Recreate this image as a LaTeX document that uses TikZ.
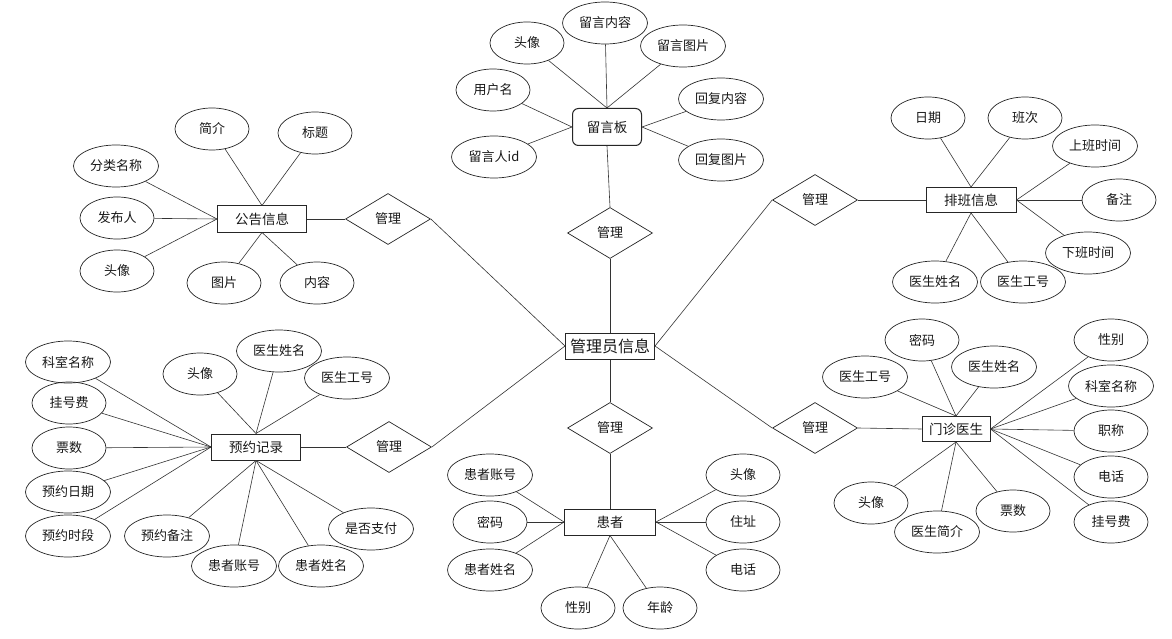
\documentclass[tikz,border=0pt]{standalone}
\usepackage{fontspec}
\newfontfamily\cjk{Noto Sans CJK SC}
\usetikzlibrary{shapes.geometric}
\begin{document}
\begin{tikzpicture}[x=1pt,y=-1pt,
 attr/.style={ellipse, draw=black!85, line width=0.7pt, minimum width=74pt, minimum height=42pt, inner sep=0pt, text=black!90, font=\cjk\fontsize{13}{15}\selectfont},
 wide/.style={minimum width=85pt},
 ent/.style={rectangle, draw=black!85, line width=1pt, minimum width=89pt, minimum height=26pt, inner sep=0pt, text=black!90, font=\cjk\fontsize{13.5}{15}\selectfont},
 rel/.style={diamond, draw=black!85, line width=0.7pt, minimum width=85pt, minimum height=51pt, inner sep=0pt, text=black!90, font=\cjk\fontsize{13}{15}\selectfont},
 conn/.style={draw=black!80, line width=0.6pt}]
\useasboundingbox (0,0) rectangle (1172,639);
\fill[white] (0,0) rectangle (1172,639);

% central entity
\node[ent, minimum width=89pt, font=\cjk\fontsize{16}{18}\selectfont] (M) at (610,346) {管理员信息};

% relationships
\node[rel] (R1) at (610,233) {管理};
\node[rel] (R2) at (388,219) {管理};
\node[rel] (R3) at (815,200) {管理};
\node[rel] (R4) at (389,447) {管理};
\node[rel] (R5) at (610,428) {管理};
\node[rel] (R6) at (815,428) {管理};

% entities
\node[ent, rounded corners=6pt, minimum width=69pt, minimum height=37pt] (B) at (607,127) {留言板};
\node[ent] (G) at (262,219) {公告信息};
\node[ent, minimum width=90pt, minimum height=25pt] (P) at (971,200) {排班信息};
\node[ent] (Y) at (256,447) {预约记录};
\node[ent, minimum width=91pt] (H) at (610,522) {患者};
\node[ent, minimum width=68pt, minimum height=25pt] (D) at (956,429) {门诊医生};

% 留言板 attributes
\node[attr] (b1) at (527,43) {头像};
\node[attr, wide] (b2) at (605,23) {留言内容};
\node[attr, wide] (b3) at (683,46) {留言图片};
\node[attr] (b4) at (493,90) {用户名};
\node[attr, wide] (b5) at (494,157) {留言人id};
\node[attr, wide] (b6) at (721,99) {回复内容};
\node[attr, wide] (b7) at (721,160) {回复图片};

% 公告信息 attributes
\node[attr] (g1) at (212,129) {简介};
\node[attr] (g2) at (315,133) {标题};
\node[attr, wide] (g3) at (116,166) {分类名称};
\node[attr] (g4) at (117,218) {发布人};
\node[attr] (g5) at (117,271) {头像};
\node[attr] (g6) at (224,283) {图片};
\node[attr] (g7) at (317,283) {内容};

% 排班信息 attributes
\node[attr] (p1) at (928,118) {日期};
\node[attr] (p2) at (1025,118) {班次};
\node[attr, wide] (p3) at (1095,146) {上班时间};
\node[attr] (p4) at (1119,200) {备注};
\node[attr, wide] (p5) at (1088,253) {下班时间};
\node[attr, wide] (p6) at (935,282) {医生姓名};
\node[attr, wide] (p7) at (1023,282) {医生工号};

% 预约记录 attributes
\node[attr, wide] (y1) at (68,362) {科室名称};
\node[attr] (y2) at (69,403) {挂号费};
\node[attr] (y3) at (69,448) {票数};
\node[attr, wide] (y4) at (68,492) {预约日期};
\node[attr, wide] (y5) at (68,536) {预约时段};
\node[attr] (y6) at (200,374) {头像};
\node[attr, wide] (y7) at (279,351) {医生姓名};
\node[attr, wide] (y8) at (347,378) {医生工号};
\node[attr, wide] (y9) at (167,536) {预约备注};
\node[attr, wide] (y10) at (234,566) {患者账号};
\node[attr, wide] (y11) at (321,566) {患者姓名};
\node[attr, wide] (y12) at (371,529) {是否支付};

% 患者 attributes
\node[attr, wide] (h1) at (490,475) {患者账号};
\node[attr] (h2) at (490,522) {密码};
\node[attr, wide] (h3) at (490,570) {患者姓名};
\node[attr] (h4) at (578,608) {性别};
\node[attr] (h5) at (660,608) {年龄};
\node[attr] (h6) at (743,475) {头像};
\node[attr] (h7) at (743,522) {住址};
\node[attr] (h8) at (743,570) {电话};

% 门诊医生 attributes
\node[attr] (d1) at (922,340) {密码};
\node[attr, wide] (d2) at (994,367) {医生姓名};
\node[attr, wide] (d3) at (865,377) {医生工号};
\node[attr] (d4) at (1111,340) {性别};
\node[attr, wide] (d5) at (1111,386) {科室名称};
\node[attr] (d6) at (1111,431) {职称};
\node[attr] (d7) at (1111,477) {电话};
\node[attr] (d8) at (1111,522) {挂号费};
\node[attr] (d9) at (871,503) {头像};
\node[attr, wide] (d10) at (937,532) {医生简介};
\node[attr] (d11) at (1013,511) {票数};

% connectors: relationships
\draw[conn] (B.south) -- (R1.north);
\draw[conn] (R1.south) -- (M.north);
\draw[conn] (G.east) -- (R2.west);
\draw[conn] (R2.east) -- (M.west);
\draw[conn] (P.west) -- (R3.east);
\draw[conn] (R3.west) -- (M.east);
\draw[conn] (Y.east) -- (R4.west);
\draw[conn] (R4.east) -- (M.west);
\draw[conn] (M.south) -- (R5.north);
\draw[conn] (R5.south) -- (H.north);
\draw[conn] (M.east) -- (R6.west);
\draw[conn] (R6.east) -- (D.west);

% 留言板
\foreach \a in {b1,b2,b3} \draw[conn] (B.north) -- (\a);
\foreach \a in {b4,b5} \draw[conn] (B.west) -- (\a);
\foreach \a in {b6,b7} \draw[conn] (B.east) -- (\a);

% 公告信息
\foreach \a in {g1,g2} \draw[conn] (G.north) -- (\a);
\foreach \a in {g3,g4,g5} \draw[conn] (G.west) -- (\a);
\foreach \a in {g6,g7} \draw[conn] (G.south) -- (\a);

% 排班信息
\foreach \a in {p1,p2} \draw[conn] (P.north) -- (\a);
\foreach \a in {p3,p4,p5} \draw[conn] (P.east) -- (\a);
\foreach \a in {p6,p7} \draw[conn] (P.south) -- (\a);

% 预约记录
\foreach \a in {y1,y2,y3,y4,y5} \draw[conn] (Y.west) -- (\a);
\foreach \a in {y6,y7,y8} \draw[conn] (Y.north) -- (\a);
\foreach \a in {y9,y10,y11,y12} \draw[conn] (Y.south) -- (\a);

% 患者
\foreach \a in {h1,h2,h3} \draw[conn] (H.west) -- (\a);
\foreach \a in {h4,h5} \draw[conn] (H.south) -- (\a);
\foreach \a in {h6,h7,h8} \draw[conn] (H.east) -- (\a);

% 门诊医生
\foreach \a in {d1,d2,d3} \draw[conn] (D.north) -- (\a);
\foreach \a in {d4,d5,d6,d7,d8} \draw[conn] (D.east) -- (\a);
\foreach \a in {d9,d10,d11} \draw[conn] (D.south) -- (\a);
\end{tikzpicture}
\end{document}
